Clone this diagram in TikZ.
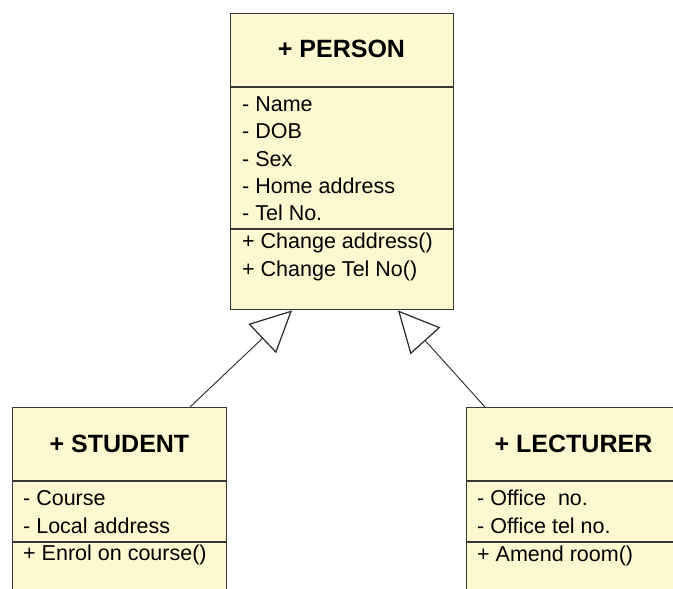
\documentclass[tikz,border=0pt]{standalone}
\usepackage{fontspec}
\setmainfont{Liberation Sans}
\usetikzlibrary{arrows.meta}
\definecolor{boxfill}{RGB}{253,248,208}
\definecolor{boxline}{RGB}{55,55,55}
\definecolor{linkline}{RGB}{40,40,40}
\tikzset{
  umlbox/.style={draw=boxline, fill=boxfill, line width=1.4pt, rectangle, inner sep=0pt, anchor=north west},
  divider/.style={draw=boxline, line width=1.4pt},
  titletext/.style={font=\fontsize{25}{29}\selectfont\bfseries, anchor=base, inner sep=0pt},
  itemtext/.style={font=\fontsize{21.5}{25}\selectfont, anchor=base west, inner sep=0pt},
  gen/.style={draw=linkline, line width=0.9pt, -{Triangle[open, length=41pt, width=40pt, fill=white, line width=1.2pt]}}
}
\begin{document}
\begin{tikzpicture}[x=1pt, y=-1pt]
\useasboundingbox (0,0) rectangle (673,589);
\clip (0,0) rectangle (673,589);
\fill[white] (0,0) rectangle (673,589);

% PERSON
\node[umlbox, minimum width=223pt, minimum height=296pt] (person) at (230,13) {};
\draw[divider] ([yshift=-74pt]person.north west) -- ([yshift=-74pt]person.north east);
\draw[divider] ([yshift=-216pt]person.north west) -- ([yshift=-216pt]person.north east);
\node[titletext] (ptitle) at (341.5,57) {+ PERSON};
\node[itemtext] (p1) at (242,111) {- Name};
\node[itemtext] (p2) at (242,138.5) {- DOB};
\node[itemtext] (p3) at (242,166) {- Sex};
\node[itemtext] (p4) at (242,193) {- Home address};
\node[itemtext] (p5) at (242,220.5) {- Tel No.};
\node[itemtext] (p6) at (242,248) {+ Change address()};
\node[itemtext] (p7) at (242,276) {+ Change Tel No()};

% STUDENT
\node[umlbox, minimum width=214pt, minimum height=230pt] (student) at (12,407) {};
\draw[divider] ([yshift=-74pt]student.north west) -- ([yshift=-74pt]student.north east);
\draw[divider] ([yshift=-135pt]student.north west) -- ([yshift=-135pt]student.north east);
\node[titletext] (stitle) at (119.5,452) {+ STUDENT};
\node[itemtext] (s1) at (23,505) {- Course};
\node[itemtext] (s2) at (23,533) {- Local address};
\node[itemtext] (s3) at (23,560.5) {+ Enrol on course()};

% LECTURER
\node[umlbox, minimum width=215pt, minimum height=230pt] (lecturer) at (466,407) {};
\draw[divider] ([yshift=-74pt]lecturer.north west) -- ([yshift=-74pt]lecturer.north east);
\draw[divider] ([yshift=-135pt]lecturer.north west) -- ([yshift=-135pt]lecturer.north east);
\node[titletext] (ltitle) at (573.5,452) {+ LECTURER};
\node[itemtext] (l1) at (477,505.5) {- Office\ \ no.};
\node[itemtext] (l2) at (477,533) {- Office tel no.};
\node[itemtext] (l3) at (477,561) {+ Amend room()};

% generalisation arrows
\draw[gen] ([xshift=178pt]student.north west) -- ([xshift=62pt]person.south west);
\draw[gen] ([xshift=19pt]lecturer.north west) -- ([xshift=168pt]person.south west);
\end{tikzpicture}
\end{document}
